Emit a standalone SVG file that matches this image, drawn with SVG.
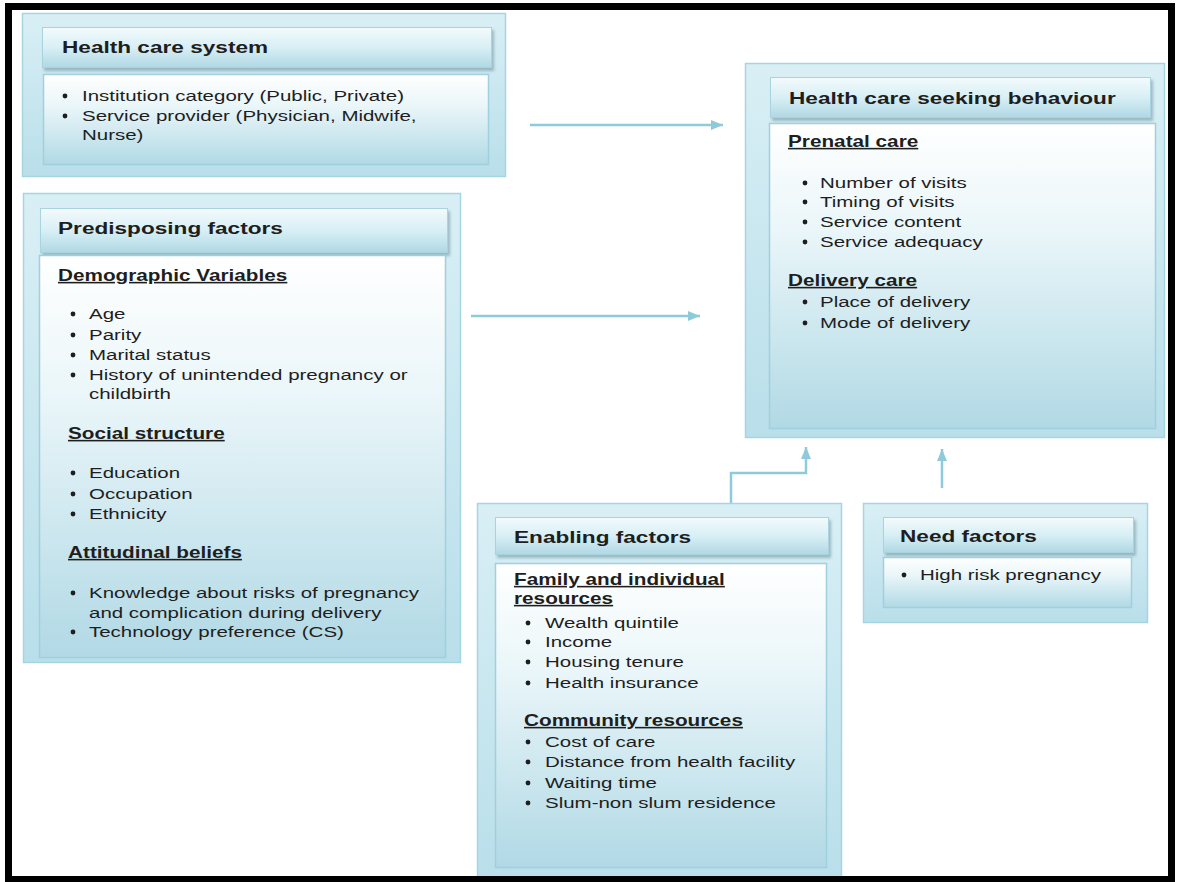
<svg xmlns="http://www.w3.org/2000/svg" width="1181" height="882" viewBox="0 0 1181 882">
<style>
.t{font-family:"Liberation Sans",Arial,sans-serif;font-size:15.4px;fill:#1e1e1e}
.h{font-weight:bold;font-size:17px}
.u{font-weight:bold;font-size:15.6px;text-decoration:underline}
.outer{fill:url(#gOuter);stroke:#a6d5e2;stroke-width:1.5}
.head{fill:url(#gHead);stroke:#a9d3df;stroke-width:1;filter:url(#sh)}
.cont{fill:url(#gCont);stroke:#9fd0de;stroke-width:1.5}
.conn{fill:none;stroke:#8fcadb;stroke-width:2.5;marker-end:url(#arr)}
.b{fill:#1e1e1e}
</style>
<defs>
<linearGradient id="gOuter" x1="0" y1="0" x2="0" y2="1">
<stop offset="0" stop-color="#d9eff5"/><stop offset="1" stop-color="#b9dfea"/>
</linearGradient>
<linearGradient id="gHead" x1="0" y1="0" x2="0" y2="1">
<stop offset="0" stop-color="#f3fafc"/><stop offset="0.5" stop-color="#d8eff5"/><stop offset="1" stop-color="#b0d8e4"/>
</linearGradient>
<linearGradient id="gCont" x1="0" y1="0" x2="0" y2="1">
<stop offset="0" stop-color="#ffffff"/><stop offset="0.35" stop-color="#eaf6f9"/><stop offset="1" stop-color="#b1d9e5"/>
</linearGradient>
<filter id="sh" x="-5%" y="-20%" width="110%" height="160%">
<feDropShadow dx="2" dy="3" stdDeviation="1.5" flood-color="#6b8f99" flood-opacity="0.55"/>
</filter>
<marker id="arr" markerUnits="userSpaceOnUse" markerWidth="14" markerHeight="12" refX="12" refY="6" orient="auto">
<path d="M0,1 L12,6 L0,11 Z" fill="#8fcadb"/>
</marker>
</defs>
<rect width="1181" height="882" fill="#ffffff"/>

<g id="connectors">
<path class="conn" d="M530,125 H723"/>
<path class="conn" d="M471,316 H700"/>
<path class="conn" d="M731,503 V473 H806 V447"/>
<path class="conn" d="M942,488 V449"/>
</g>

<g id="health-care-system">
<rect class="outer" x="22.5" y="13.5" width="483" height="163"/>
<rect class="head" x="42.5" y="27.5" width="449" height="40"/>
<rect class="cont" x="43.5" y="74.5" width="445" height="90"/>
<text class="t h" transform="translate(62 53) scale(1.33 1)">Health care system</text>
<circle class="b" cx="65" cy="96" r="2.4"/>
<text class="t" transform="translate(82 101) scale(1.33 1)">Institution category (Public, Private)</text>
<circle class="b" cx="65" cy="116" r="2.4"/>
<text class="t" transform="translate(82 121) scale(1.33 1)">Service provider (Physician, Midwife,</text>
<text class="t" transform="translate(82 140) scale(1.33 1)">Nurse)</text>
</g>

<g id="predisposing-factors">
<rect class="outer" x="23.5" y="193.5" width="437" height="469"/>
<rect class="head" x="40.5" y="208.5" width="407" height="44"/>
<rect class="cont" x="39.5" y="255.5" width="406" height="402"/>
<text class="t h" transform="translate(58 234) scale(1.33 1)">Predisposing factors</text>
<text class="t u" transform="translate(58 281) scale(1.33 1)">Demographic Variables</text>
<circle class="b" cx="73" cy="314" r="2.4"/>
<text class="t" transform="translate(89 319) scale(1.33 1)">Age</text>
<circle class="b" cx="73" cy="335" r="2.4"/>
<text class="t" transform="translate(89 340) scale(1.33 1)">Parity</text>
<circle class="b" cx="73" cy="355" r="2.4"/>
<text class="t" transform="translate(89 360) scale(1.33 1)">Marital status</text>
<circle class="b" cx="73" cy="375" r="2.4"/>
<text class="t" transform="translate(89 380) scale(1.33 1)">History of unintended pregnancy or</text>
<text class="t" transform="translate(89 399) scale(1.33 1)">childbirth</text>
<text class="t u" transform="translate(68 439) scale(1.33 1)">Social structure</text>
<circle class="b" cx="73" cy="473" r="2.4"/>
<text class="t" transform="translate(89 478) scale(1.33 1)">Education</text>
<circle class="b" cx="73" cy="494" r="2.4"/>
<text class="t" transform="translate(89 499) scale(1.33 1)">Occupation</text>
<circle class="b" cx="73" cy="514" r="2.4"/>
<text class="t" transform="translate(89 519) scale(1.33 1)">Ethnicity</text>
<text class="t u" transform="translate(68 558) scale(1.33 1)">Attitudinal beliefs</text>
<circle class="b" cx="73" cy="593" r="2.4"/>
<text class="t" transform="translate(89 598) scale(1.33 1)">Knowledge about risks of pregnancy</text>
<text class="t" transform="translate(89 618) scale(1.33 1)">and complication during delivery</text>
<circle class="b" cx="73" cy="632" r="2.4"/>
<text class="t" transform="translate(89 637) scale(1.33 1)">Technology preference (CS)</text>
</g>

<g id="health-care-seeking-behaviour">
<rect class="outer" x="745.5" y="63.5" width="419" height="374"/>
<rect class="head" x="770.5" y="77.5" width="380" height="40"/>
<rect class="cont" x="769.5" y="123.5" width="386" height="305"/>
<text class="t h" transform="translate(789 104) scale(1.33 1)">Health care seeking behaviour</text>
<text class="t u" transform="translate(788 147) scale(1.33 1)">Prenatal care</text>
<circle class="b" cx="805" cy="183" r="2.4"/>
<text class="t" transform="translate(820 188) scale(1.33 1)">Number of visits</text>
<circle class="b" cx="805" cy="202" r="2.4"/>
<text class="t" transform="translate(820 207) scale(1.33 1)">Timing of visits</text>
<circle class="b" cx="805" cy="222" r="2.4"/>
<text class="t" transform="translate(820 227) scale(1.33 1)">Service content</text>
<circle class="b" cx="805" cy="242" r="2.4"/>
<text class="t" transform="translate(820 247) scale(1.33 1)">Service adequacy</text>
<text class="t u" transform="translate(788 286) scale(1.33 1)">Delivery care</text>
<circle class="b" cx="805" cy="302" r="2.4"/>
<text class="t" transform="translate(820 307) scale(1.33 1)">Place of delivery</text>
<circle class="b" cx="805" cy="323" r="2.4"/>
<text class="t" transform="translate(820 328) scale(1.33 1)">Mode of delivery</text>
</g>

<g id="enabling-factors">
<rect class="outer" x="477.5" y="503.5" width="364" height="380"/>
<rect class="head" x="495.5" y="517.5" width="333" height="37"/>
<rect class="cont" x="495.5" y="563.5" width="331" height="304"/>
<text class="t h" transform="translate(514 543) scale(1.33 1)">Enabling factors</text>
<text class="t u" transform="translate(514 585) scale(1.33 1)">Family and individual</text>
<text class="t u" transform="translate(514 604) scale(1.33 1)">resources</text>
<circle class="b" cx="528" cy="623" r="2.4"/>
<text class="t" transform="translate(545 628) scale(1.33 1)">Wealth quintile</text>
<circle class="b" cx="528" cy="642" r="2.4"/>
<text class="t" transform="translate(545 647) scale(1.33 1)">Income</text>
<circle class="b" cx="528" cy="662" r="2.4"/>
<text class="t" transform="translate(545 667) scale(1.33 1)">Housing tenure</text>
<circle class="b" cx="528" cy="683" r="2.4"/>
<text class="t" transform="translate(545 688) scale(1.33 1)">Health insurance</text>
<text class="t u" transform="translate(524 726) scale(1.33 1)">Community resources</text>
<circle class="b" cx="528" cy="742" r="2.4"/>
<text class="t" transform="translate(545 747) scale(1.33 1)">Cost of care</text>
<circle class="b" cx="528" cy="762" r="2.4"/>
<text class="t" transform="translate(545 767) scale(1.33 1)">Distance from health facility</text>
<circle class="b" cx="528" cy="783" r="2.4"/>
<text class="t" transform="translate(545 788) scale(1.33 1)">Waiting time</text>
<circle class="b" cx="528" cy="803" r="2.4"/>
<text class="t" transform="translate(545 808) scale(1.33 1)">Slum-non slum residence</text>
</g>

<g id="need-factors">
<rect class="outer" x="863.5" y="503.5" width="284" height="119"/>
<rect class="head" x="883.5" y="517.5" width="250" height="35"/>
<rect class="cont" x="883.5" y="557.5" width="248" height="50"/>
<text class="t h" transform="translate(900 542) scale(1.33 1)">Need factors</text>
<circle class="b" cx="904" cy="575" r="2.4"/>
<text class="t" transform="translate(920 580) scale(1.33 1)">High risk pregnancy</text>
</g>

<rect x="8.5" y="6.5" width="1163" height="873" fill="none" stroke="#000" stroke-width="7"/>
</svg>
